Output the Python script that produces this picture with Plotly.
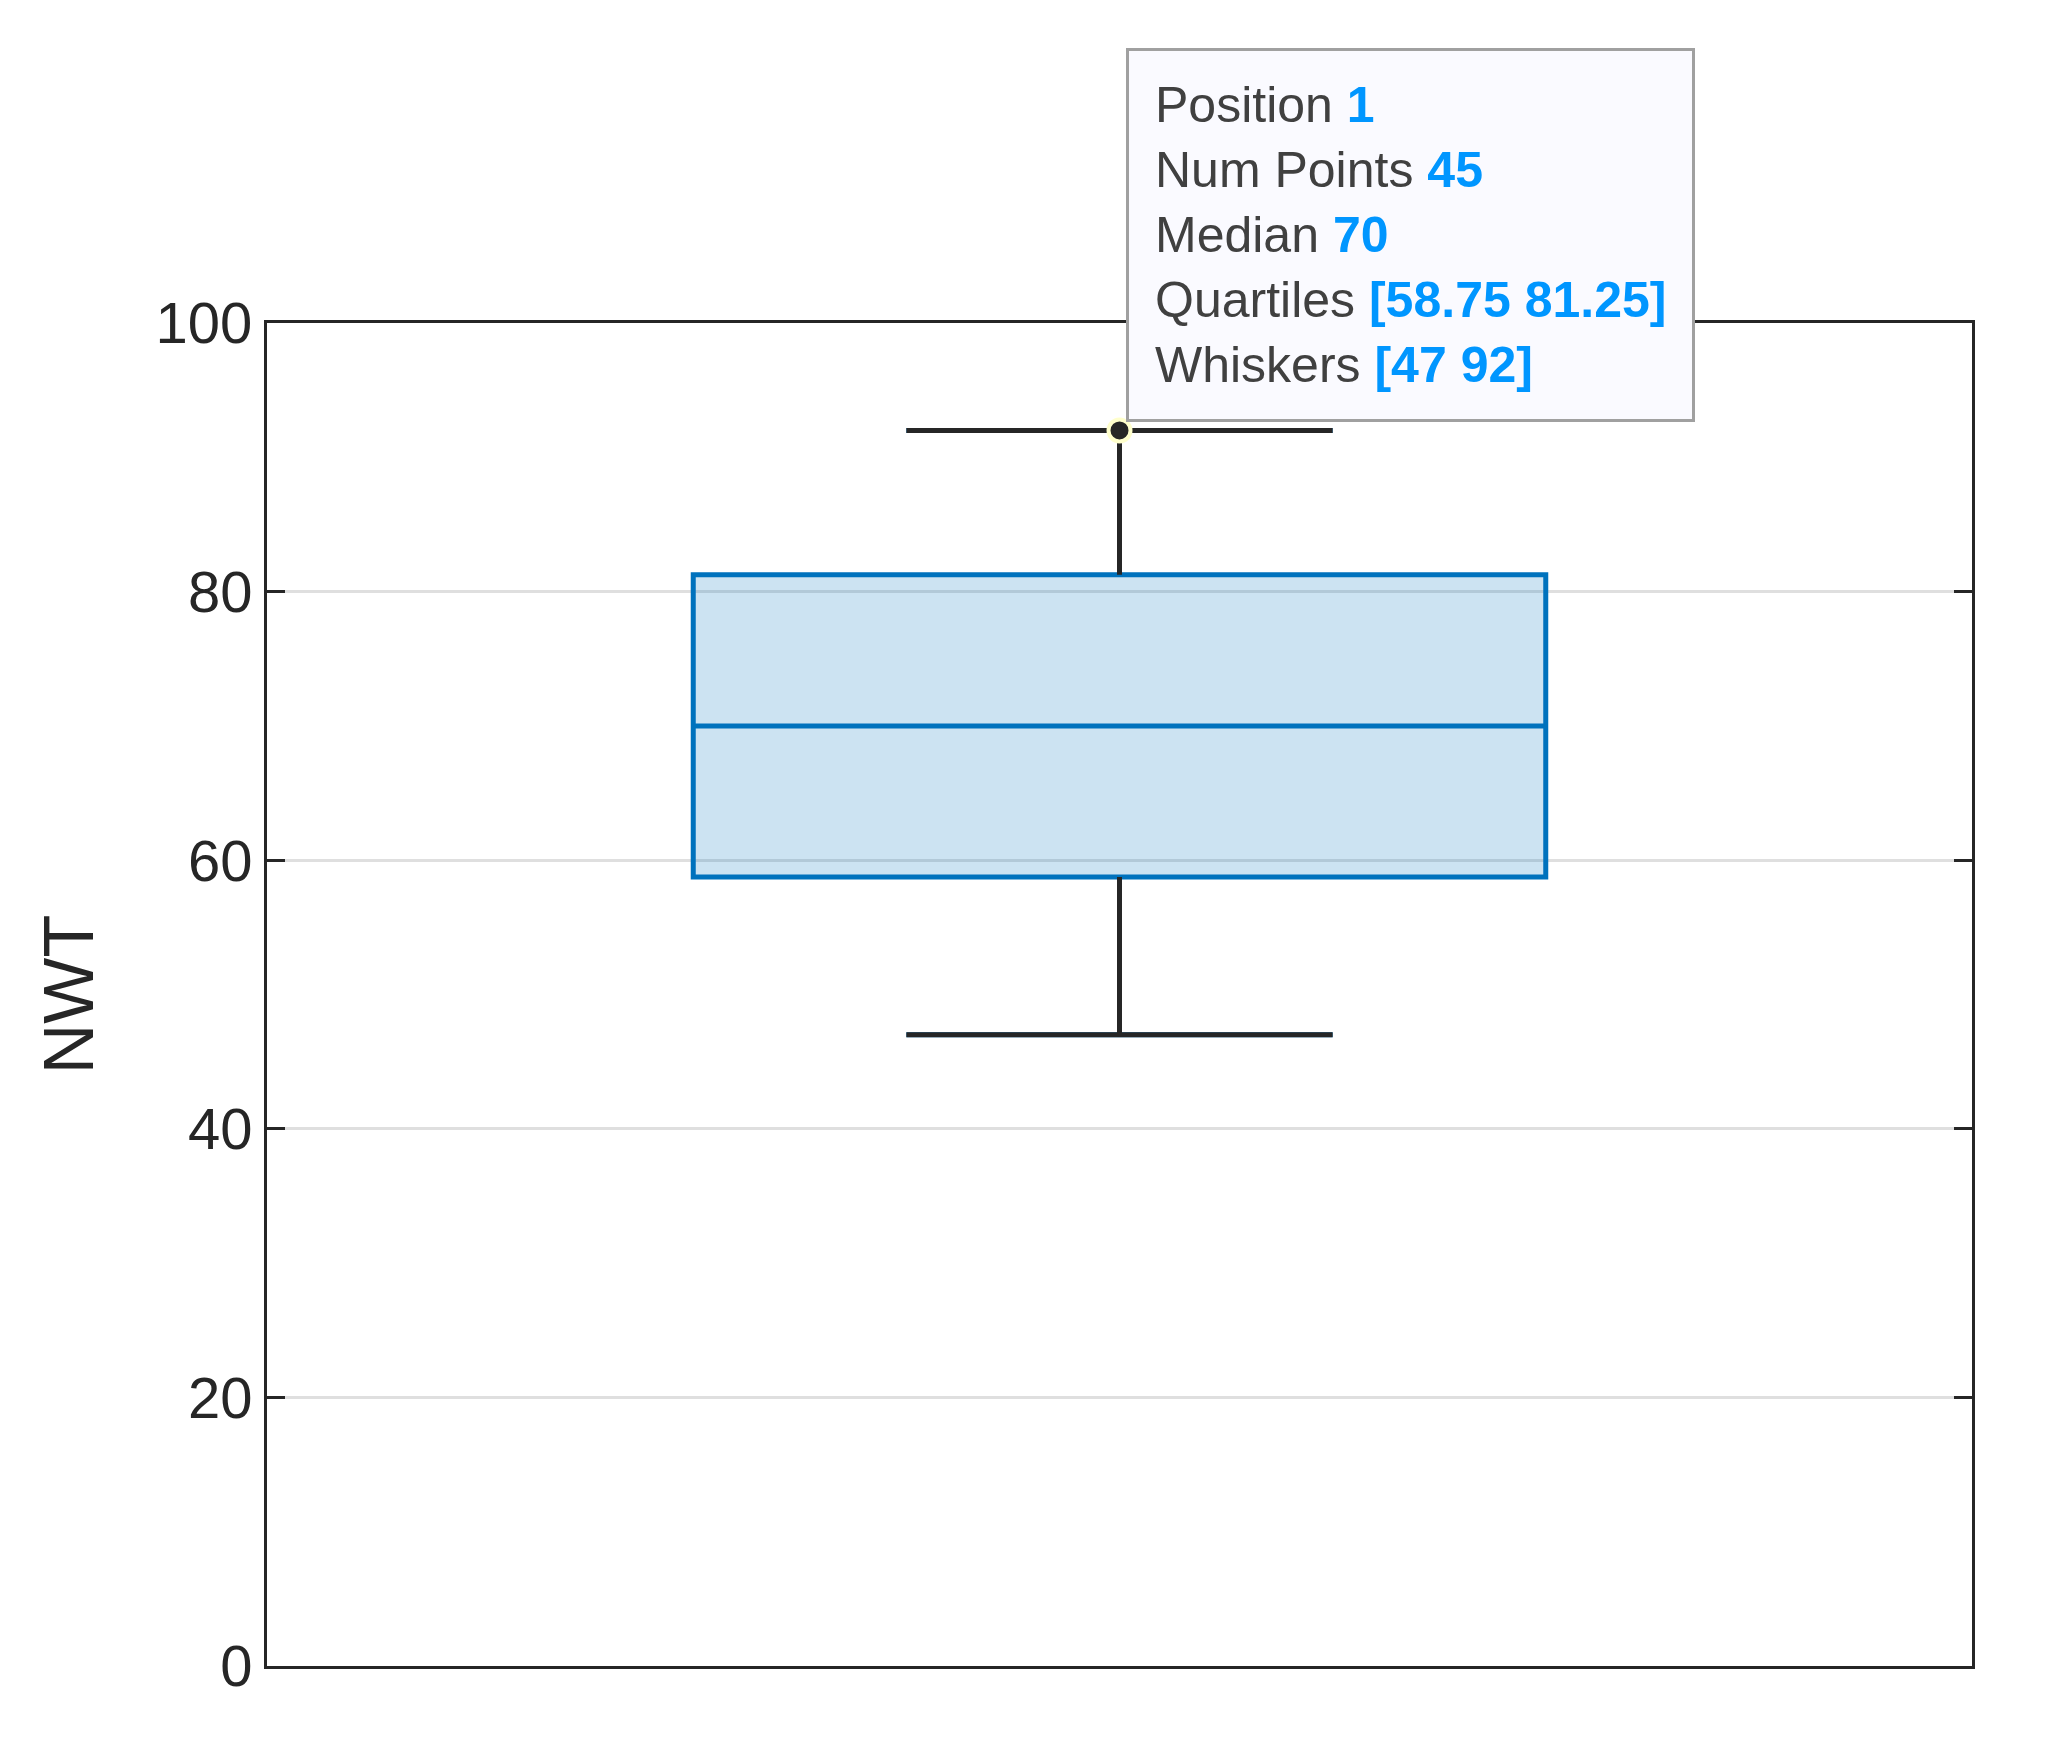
import plotly.graph_objects as go

positions = [1]
num_points = [45]
medians = [70]
q1s = [58.75]
q3s = [81.25]
lower_whiskers = [47]
upper_whiskers = [92]

fig = go.Figure()
fig.add_trace(go.Box(
    x=positions, q1=q1s, median=medians, q3=q3s,
    lowerfence=lower_whiskers, upperfence=upper_whiskers,
    width=0.5, whiskerwidth=0.5,
    line=dict(color="#0072BD", width=5),
    fillcolor="rgba(0,114,189,0.2)", boxpoints=False, hoverinfo="skip",
))
for p, lo, hi, a, b in zip(positions, lower_whiskers, upper_whiskers, q1s, q3s):
    fig.add_trace(go.Scatter(x=[p, p, None, p, p, None, p-0.125, p+0.125, None, p-0.125, p+0.125],
                             y=[lo, a, None, b, hi, None, lo, lo, None, hi, hi],
                             mode="lines", line=dict(color="#262626", width=5), hoverinfo="skip"))
fig.add_trace(go.Scatter(x=positions, y=upper_whiskers, mode="markers",
                         marker=dict(color="#262626", size=22, line=dict(color="#FFFFCC", width=4)),
                         hoverinfo="skip"))

v = lambda s: f"<span style='color:#0096FF'><b>{s}</b></span>"
text = ("Position " + v(positions[0]) + "<br>Num Points " + v(num_points[0]) +
        "<br>Median " + v(medians[0]) +
        "<br>Quartiles " + v(f"[{q1s[0]} {q3s[0]}]") +
        "<br>Whiskers " + v(f"[{lower_whiskers[0]} {upper_whiskers[0]}]"))
fig.add_annotation(x=0.504, y=1.205, xref="paper", yref="paper", xanchor="left", yanchor="top",
                   text=text, showarrow=False, align="left",
                   font=dict(size=50, color="#404040", family="Liberation Sans, Arial"),
                   bgcolor="rgba(250,250,255,1)", bordercolor="#A0A0A0", borderwidth=3, borderpad=26)

fig.update_layout(
    width=2066, height=1750, showlegend=False,
    paper_bgcolor="white", plot_bgcolor="white",
    margin=dict(l=259, r=102, t=315, b=92),
    font=dict(family="Liberation Sans, Arial", size=58, color="#262626"),
)
fig.update_xaxes(range=[0.5, 1.5], showticklabels=False, ticks="", showgrid=False,
                 showline=True, mirror=True, linecolor="#262626", linewidth=3, zeroline=False)
fig.update_yaxes(range=[0, 100], tickvals=[0, 20, 40, 60, 80, 100], ticks="inside", ticklen=18,
                 tickwidth=3, tickcolor="#262626", mirror="ticks", showline=True, linecolor="#262626",
                 linewidth=3, showgrid=True, gridcolor="#DFDFDF", gridwidth=3, zeroline=False,
                 title=dict(text="NWT", standoff=40))
fig.write_html("out.html")
